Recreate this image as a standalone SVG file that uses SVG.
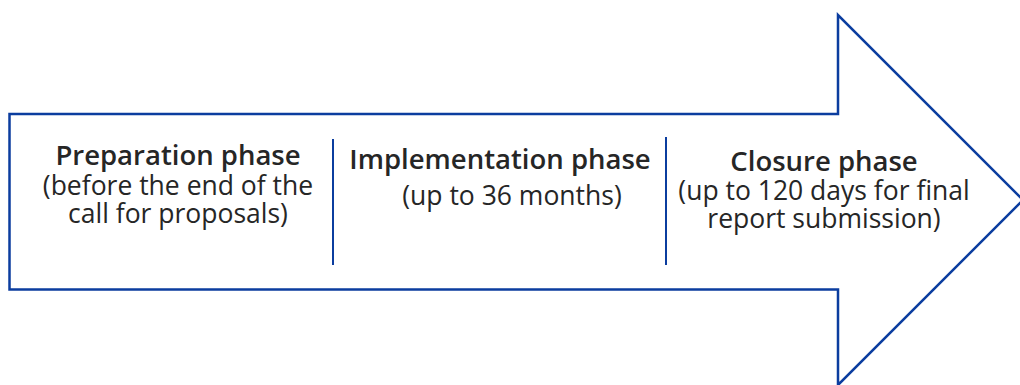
<svg xmlns="http://www.w3.org/2000/svg" width="1020" height="385" viewBox="0 0 1020 385">
<style>
.arrow{fill:#fff;stroke:#0b3d9f;stroke-width:2.5;stroke-linejoin:miter}
.div{stroke:#0b3d9f;stroke-width:2}
.t{font-family:"Open Sans","Noto Sans",sans-serif;font-size:26.5px;fill:#262626;text-anchor:middle}
.b{font-weight:600;font-size:27.5px}
</style>
<g id="arrow">
<path class="arrow" d="M9.5,114 H838 V15 L1023,200 L838,385 V289.5 H9.5 Z"/>
</g>
<g id="connectors">
<line class="div" x1="333" y1="139" x2="333" y2="265"/>
<line class="div" x1="666" y1="137" x2="666" y2="265"/>
</g>
<g id="preparation">
<text class="t b" x="178" y="165">Preparation phase</text>
<text class="t" x="178" y="195">(before the end of the</text>
<text class="t" x="178" y="223">call for proposals)</text>
</g>
<g id="implementation">
<text class="t b" x="500" y="169">Implementation phase</text>
<text class="t" x="512" y="205">(up to 36 months)</text>
</g>
<g id="closure">
<text class="t b" x="824" y="171">Closure phase</text>
<text class="t" x="824" y="200">(up to 120 days for final</text>
<text class="t" x="824" y="228">report submission)</text>
</g>
</svg>
